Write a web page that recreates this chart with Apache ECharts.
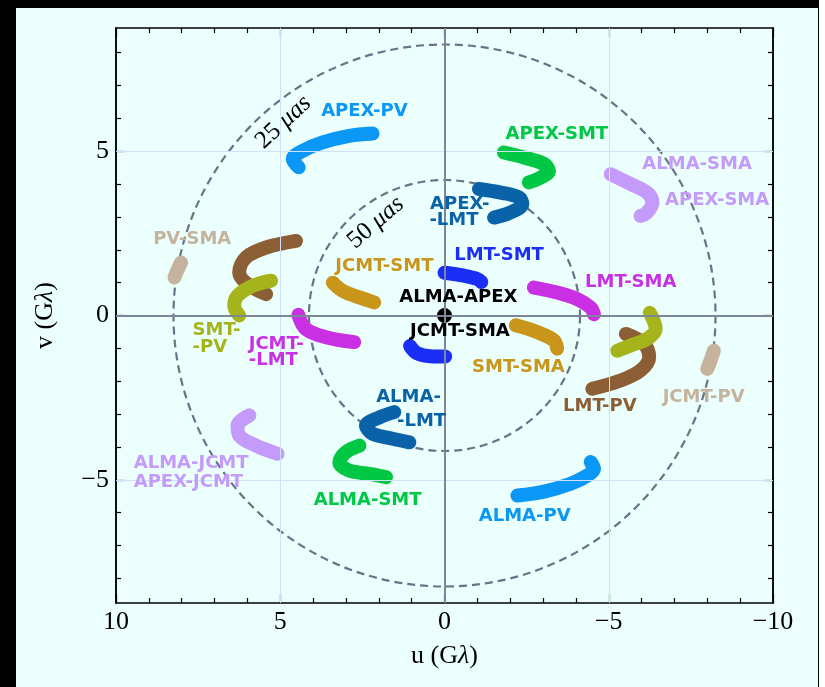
<!DOCTYPE html>
<html>
<head>
<meta charset="utf-8">
<script src="https://cdn.jsdelivr.net/npm/echarts@6/dist/echarts.min.js"></script>
<style>
html,body{margin:0;padding:0;background:#ffffff;}
#band{position:absolute;left:0;top:0;width:819px;height:687px;background:#000;}
#chart{position:absolute;left:16px;top:8px;width:802px;height:679px;}
</style>
</head>
<body>
<div id="band"></div>
<div id="chart"></div>
<script>
// ---- data (u, v in Gλ) ----
const apexPV   = [[4.44,4.51],[4.62,4.76],[4.32,5.01],[3.71,5.27],[2.90,5.47],[2.19,5.54]];
const almaPV   = [[-2.22,-5.48],[-3.03,-5.36],[-3.84,-5.12],[-4.35,-4.87],[-4.55,-4.67],[-4.45,-4.46]];
const apexSMT  = [[-1.81,4.96],[-2.42,4.81],[-3.03,4.61],[-3.18,4.40],[-2.93,4.20],[-2.57,4.05]];
const almaSMT  = [[2.59,-3.96],[3.00,-4.16],[3.20,-4.47],[2.90,-4.72],[2.29,-4.82],[1.78,-4.92]];
const apexLMT  = [[-1.05,3.85],[-1.71,3.74],[-2.27,3.59],[-2.37,3.39],[-2.01,3.14],[-1.51,2.98]];
const almaLMT  = [[1.53,-2.94],[1.98,-3.10],[2.39,-3.35],[2.19,-3.60],[1.58,-3.75],[1.07,-3.86]];
const almaSMA  = [[-5.06,4.30],[-5.67,4.00],[-6.17,3.74],[-6.33,3.44],[-6.17,3.14],[-5.97,3.03]];
const almaJCMT = [[5.94,-3.04],[6.30,-3.35],[6.25,-3.65],[5.74,-3.96],[5.08,-4.21]];
const lmtSMT   = [[0.00,1.30],[-0.59,1.21],[-1.00,1.11],[-1.12,1.02]];
const smtLMT   = [[1.05,-0.93],[0.85,-1.14],[0.44,-1.24],[-0.02,-1.25]];
const lmtSMA   = [[-2.72,0.85],[-3.43,0.70],[-4.04,0.50],[-4.45,0.24],[-4.55,0.04]];
const jcmtLMT  = [[4.45,0.02],[4.22,-0.41],[3.61,-0.66],[2.75,-0.81]];
const jcmtSMT  = [[3.40,1.00],[3.10,0.75],[2.59,0.55],[2.14,0.40]];
const smtSMA   = [[-2.17,-0.30],[-2.83,-0.51],[-3.33,-0.76],[-3.43,-1.01]];
const pvLMT    = [[4.52,2.27],[5.43,2.07],[6.04,1.77],[6.25,1.31],[5.99,0.95],[5.43,0.65]];
const lmtPV    = [[-5.52,-0.56],[-6.07,-0.86],[-6.23,-1.27],[-5.97,-1.67],[-5.36,-1.98],[-4.50,-2.23]];
const smtPVc   = [[5.28,1.06],[5.84,0.90],[6.30,0.60],[6.40,0.30],[6.25,0.00]];
const smtPV    = [[-6.25,0.08],[-6.43,-0.41],[-6.17,-0.71],[-5.67,-0.91],[-5.26,-1.07]];
const pvSMA    = [[8.02,1.61],[8.12,1.40],[8.22,1.16]];
const jcmtPV   = [[-8.20,-1.07],[-8.10,-1.37],[-8.00,-1.62]];
const almaAPEX = [[0,0]];
const circleRadii = [8.25, 4.125];   // 25 µas and 50 µas
const circleNames = ['25', '50'];
const yMajor = [-5,0,5];
const yMinor = [-8,-7,-6,-4,-3,-2,-1,1,2,3,4,6,7,8];

const C = {
  pv:'#0a97f5', smt:'#00c845', lmt:'#0a63a8', sma:'#c49bfb', blue:'#1b2ef5',
  mag:'#c92fe3', gold:'#c9951a', brown:'#8c5e35', olive:'#a6b41c', tan:'#c5b39d'
};

const tracks = [
  [apexPV,C.pv],[almaPV,C.pv],[apexSMT,C.smt],[almaSMT,C.smt],[apexLMT,C.lmt],[almaLMT,C.lmt],
  [almaSMA,C.sma],[almaJCMT,C.sma],[lmtSMT,C.blue],[smtLMT,C.blue],[lmtSMA,C.mag],[jcmtLMT,C.mag],
  [jcmtSMT,C.gold],[smtSMA,C.gold],[pvLMT,C.brown],[lmtPV,C.brown],[smtPVc,C.olive],[smtPV,C.olive],
  [pvSMA,C.tan],[jcmtPV,C.tan]
];

// annotations: text, anchor (u,v), alignment, colour
const notes = [
  ['APEX-PV',[2.44,6.21],'center',C.pv],
  ['PV-SMA',[7.68,2.32],'center',C.tan],
  ['JCMT-SMT',[1.83,1.51],'center',C.gold],
  ['APEX-SMT',[-3.42,5.52],'center',C.smt],
  ['ALMA-SMA',[-7.69,4.61],'center',C.sma],
  ['APEX-SMA',[-8.30,3.51],'center',C.sma],
  ['APEX-',[0.44,3.38],'left',C.lmt],
  ['-LMT',[0.46,2.90],'left',C.lmt],
  ['LMT-SMT',[-1.66,1.82],'center',C.blue],
  ['LMT-SMA',[-5.67,1.00],'center',C.mag],
  ['ALMA-APEX',[-0.42,0.54],'center','#000'],
  ['JCMT-SMA',[-0.47,-0.48],'center','#000'],
  ['SMT-SMA',[-2.25,-1.57],'center',C.gold],
  ['LMT-PV',[-4.73,-2.76],'center',C.brown],
  ['JCMT-PV',[-7.89,-2.48],'center',C.tan],
  ['SMT-',[7.67,-0.46],'left',C.olive],
  ['-PV',[7.67,-0.96],'left',C.olive],
  ['JCMT-',[5.96,-0.89],'left',C.mag],
  ['-LMT',[5.96,-1.37],'left',C.mag],
  ['ALMA-',[0.11,-2.50],'right',C.lmt],
  ['-LMT',[-0.05,-3.22],'right',C.lmt],
  ['ALMA-JCMT',[9.46,-4.49],'left',C.sma],
  ['APEX-JCMT',[9.46,-5.08],'left',C.sma],
  ['ALMA-SMT',[2.34,-5.61],'center',C.smt],
  ['ALMA-PV',[-2.44,-6.11],'center',C.pv]
];
const circleNotes = [[4.90,5.88,43],[2.09,2.83,41]];

const serif = "'Liberation Serif', 'DejaVu Serif', serif";
const fmt = v => v < 0 ? '\u2212' + Math.abs(v) : String(v);
const YMIN = -8.75, YMAX = 8.75;

const chart = echarts.init(document.getElementById('chart'), null, {renderer:'canvas'});

const tickStyle = {color:'#000', width:1.2};
const frameLine = {show:true, onZero:false, lineStyle:{color:'#000', width:1.5}};
const nameRich = {rich:{a:{fontFamily:serif,fontSize:26,color:'#000'},b:{fontFamily:serif,fontSize:26,fontStyle:'italic',color:'#000'}}};

const xAxes = ['bottom','top'].map((pos,i) => ({
  type:'value', min:-10, max:10, interval:5, inverse:true, position:pos,
  axisLine:frameLine,
  axisTick:{show:true, inside:true, length:9, lineStyle:tickStyle},
  minorTick:{show:true, splitNumber:5, length:5, lineStyle:tickStyle},
  splitLine:{show:false}, minorSplitLine:{show:false},
  axisLabel:{show:i===0, formatter:fmt, color:'#000', fontFamily:serif, fontSize:26, margin:6,
             showMinLabel:true, showMaxLabel:true},
  name: i===0 ? '{a|u (G}{b|λ}{a|)}' : '',
  nameLocation:'middle', nameGap:40,
  nameTextStyle:nameRich
}));

function yAx(pos, major, withName) {
  return {
    type:'value', min:YMIN, max:YMAX, position:pos,
    axisLine:frameLine,
    axisTick:{show:true, inside:true, length:major?9:5, lineStyle:tickStyle, customValues: major?yMajor:yMinor},
    splitLine:{show:false},
    axisLabel:{show:major && pos==='left', customValues:yMajor, formatter:fmt, color:'#000',
               fontFamily:serif, fontSize:26, margin:7},
    name: withName ? '{a|v (G}{b|λ}{a|)}' : '',
    nameLocation:'middle', nameGap:58, nameRotate:90,
    nameTextStyle:nameRich
  };
}
const yAxes = [yAx('left',true,true), yAx('left',false,false), yAx('right',true,false), yAx('right',false,false)];

const series = [];
// grid and zero lines
series.push({
  type:'line', data:[[0,0]], showSymbol:false, lineStyle:{opacity:0}, silent:true, z:1,
  markLine:{
    silent:true, symbol:['none','none'], label:{show:false}, animation:false,
    data:[
      {xAxis:5, lineStyle:{color:'#cfe0fa', width:1, type:'solid'}},
      {xAxis:-5, lineStyle:{color:'#cfe0fa', width:1, type:'solid'}},
      {yAxis:5, lineStyle:{color:'#cfe0fa', width:1, type:'solid'}},
      {yAxis:-5, lineStyle:{color:'#cfe0fa', width:1, type:'solid'}},
      {xAxis:0, lineStyle:{color:'#7d8798', width:2, type:'solid'}},
      {yAxis:0, lineStyle:{color:'#7d8798', width:2, type:'solid'}}
    ]
  }
});
// dashed circles
series.push({
  type:'custom', silent:true, z:2,
  data: circleRadii.map(r => [0,0,r]),
  encode:{x:0, y:1},
  renderItem:(params, api) => {
    const c = api.coord([api.value(0), api.value(1)]);
    const s = api.size([api.value(2), api.value(2)]);
    return {type:'circle', shape:{cx:c[0], cy:c[1], r:Math.abs(s[0])},
            style:{fill:'none', stroke:'#687387', lineWidth:2.2, lineDash:[8,5]}};
  }
});
// tracks
tracks.forEach(([d,col]) => {
  series.push({
    type:'line', data:d, smooth:0.35, showSymbol:false, silent:true, z:3,
    lineStyle:{color:col, width:14, cap:'round', join:'round', opacity:1}
  });
});
// ALMA-APEX dot
series.push({type:'scatter', data:almaAPEX, symbolSize:15, itemStyle:{color:'#000', opacity:1}, z:4, silent:true});
// labels
series.push({
  type:'scatter', symbolSize:1, itemStyle:{color:'rgba(0,0,0,0)', opacity:1}, z:5, silent:true,
  data: notes.map(n => ({
    value:n[1],
    label:{show:true, position:'inside', formatter:n[0], align:n[2], verticalAlign:'middle',
           color:n[3], opacity:1, fontFamily:"'DejaVu Sans', sans-serif", fontWeight:'bold', fontSize:18}
  }))
});
// circle labels
series.push({
  type:'scatter', symbolSize:1, itemStyle:{color:'rgba(0,0,0,0)', opacity:1}, z:5, silent:true,
  data: circleNotes.map((c,i) => ({
    value:[c[0], c[1]],
    label:{show:true, position:'inside', rotate:c[2], align:'center', verticalAlign:'middle', opacity:1,
           formatter:'{n|' + circleNames[i] + ' }{m|μas}',
           rich:{n:{fontFamily:serif, fontSize:25, color:'#000'}, m:{fontFamily:serif, fontSize:25, fontStyle:'italic', color:'#000'}}}
  }))
});

chart.setOption({
  backgroundColor:'#ebfffd',
  animation:false,
  grid:{left:100, right:45, top:20, bottom:84, containLabel:false},
  xAxis:xAxes,
  yAxis:yAxes,
  series:series
});
</script>
</body>
</html>
